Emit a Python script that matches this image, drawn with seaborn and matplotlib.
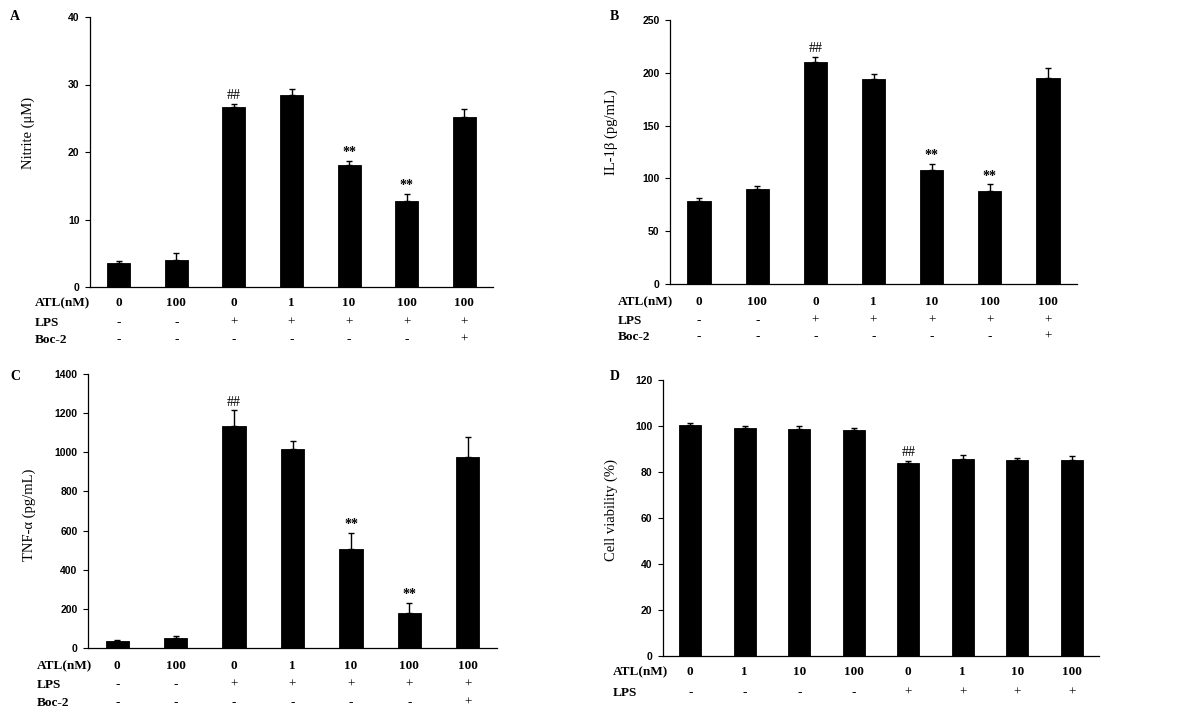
import matplotlib
matplotlib.use("Agg")
import matplotlib.pyplot as plt
import matplotlib.transforms as mtransforms
import seaborn as sns
import pandas as pd

# --- data ---
atl_7 = ["0", "100", "0", "1", "10", "100", "100"]
lps_7 = ["-", "-", "+", "+", "+", "+", "+"]
boc_7 = ["-", "-", "-", "-", "-", "-", "+"]

nitrite = [3.5, 4.0, 26.6, 28.5, 18.1, 12.8, 25.2]
nitrite_err = [0.4, 1.0, 0.5, 0.9, 0.6, 1.0, 1.2]

il1b = [79, 89.5, 210, 194.5, 107.5, 88, 195]
il1b_err = [2.8, 3, 5, 4.5, 6.5, 6.5, 10]

tnf = [34, 49, 1135, 1019, 508, 179, 978]
tnf_err = [5, 11, 80, 41, 82, 51, 99]

atl_8 = ["0", "1", "10", "100", "0", "1", "10", "100"]
lps_8 = ["-", "-", "-", "-", "+", "+", "+", "+"]
viability = [100.3, 99.0, 98.7, 98.3, 84.1, 85.5, 85.2, 85.2]
viability_err = [1.1, 0.9, 1.3, 0.7, 0.8, 1.7, 1.0, 1.6]

marks_7 = {2: "##", 4: "**", 5: "**"}
marks_8 = {4: "##"}

sns.set_style("white")
plt.rcParams["font.family"] = ["Liberation Serif", "DejaVu Serif"]
plt.rcParams["text.color"] = "black"
plt.rcParams["axes.labelcolor"] = "black"
plt.rcParams["ytick.color"] = "black"
plt.rcParams["ytick.labelcolor"] = "black"
SERIF = ["Liberation Serif", "DejaVu Serif"]
SANS = ["Liberation Sans", "DejaVu Sans"]

fig = plt.figure(figsize=(12, 7.17), dpi=100)


def panel(rect, vals, errs, ylim, ystep, ylabel, ylab_pos, letter, letter_xy,
          rows, row_y, row_label_x, marks):
    ax = fig.add_axes(rect)
    n = len(vals)
    df = pd.DataFrame({"grp": list(range(n)), "val": vals})
    sns.barplot(data=df, x="grp", y="val", color="black", width=0.4,
                saturation=1, edgecolor="black", linewidth=0.6, ax=ax)
    # upper-only error bars
    ax.errorbar(df["grp"], df["val"], yerr=[[0] * n, errs], fmt="none",
                ecolor="black", elinewidth=1.0, capsize=2.5, capthick=1.0)
    for i, m in marks.items():
        top = vals[i] + errs[i]
        w = "bold" if m == "**" else "normal"
        ax.text(i, top + (ylim * 0.006), m, ha="center", va="bottom",
                fontsize=10, fontweight=w, family=SERIF, color="black")

    ax.set_xlim(-0.5, n - 0.5)
    ax.set_ylim(0, ylim)
    ax.set_yticks(range(0, ylim + 1, ystep))
    ax.set_xticks([])
    ax.set_xlabel("")
    ax.set_ylabel(ylabel, fontsize=10.5, family=SERIF, color="black")
    ax.yaxis.set_label_coords(*ylab_pos)
    for lab in ax.get_yticklabels():
        lab.set_family(SANS)
        lab.set_fontweight("bold")
        lab.set_fontsize(7.5)
        lab.set_color("black")
    ax.tick_params(axis="y", direction="out", length=3.5, width=0.8,
                   color="black", pad=4, left=True)
    sns.despine(ax=ax)
    for s in ["left", "bottom"]:
        ax.spines[s].set_color("black")
        ax.spines[s].set_linewidth(0.9)

    trans = mtransforms.blended_transform_factory(ax.transData, fig.transFigure)
    for (name, values), yy in zip(rows, row_y):
        fy = 1 - yy / 717
        fig.text(row_label_x / 1200, fy, name, ha="left", va="center",
                 fontsize=9.5, fontweight="bold", family=SERIF, color="black")
        for i, v in enumerate(values):
            bold = v not in ("-", "+")
            ax.text(i, fy, v, transform=trans, ha="center", va="center",
                    fontsize=9.5, fontweight="bold" if bold else "normal",
                    family=SERIF, color="black")

    fig.text(letter_xy[0] / 1200, 1 - letter_xy[1] / 717, letter,
             ha="left", va="center", fontsize=10, fontweight="bold",
             family=SERIF, color="black")
    return ax


def rect(l, r, t, b):
    return [l / 1200, 1 - b / 717, (r - l) / 1200, (b - t) / 717]


panel(rect(90, 493, 17, 287), nitrite, nitrite_err, 40, 10,
      "Nitrite (\u03bcM)", (-0.136, 0.57), "A", (10, 16),
      [("ATL(nM)", atl_7), ("LPS", lps_7), ("Boc-2", boc_7)],
      [303, 323, 340], 35, marks_7)

panel(rect(670, 1077, 20, 284), il1b, il1b_err, 250, 50,
      "IL-1\u03b2 (pg/mL)", (-0.128, 0.576), "B", (610, 16),
      [("ATL(nM)", atl_7), ("LPS", lps_7), ("Boc-2", boc_7)],
      [302, 321, 337], 618, marks_7)

panel(rect(88, 497, 374, 648), tnf, tnf_err, 1400, 200,
      "TNF-\u03b1 (pg/mL)", (-0.127, 0.485), "C", (10, 376),
      [("ATL(nM)", atl_7), ("LPS", lps_7), ("Boc-2", boc_7)],
      [666, 685, 703], 37, marks_7)

panel(rect(663, 1099, 380, 656), viability, viability_err, 120, 20,
      "Cell viability (%)", (-0.103, 0.53), "D", (610, 376),
      [("ATL(nM)", atl_8), ("LPS", lps_8)],
      [672, 693], 613, marks_8)

plt.savefig("out.png", dpi=100)
